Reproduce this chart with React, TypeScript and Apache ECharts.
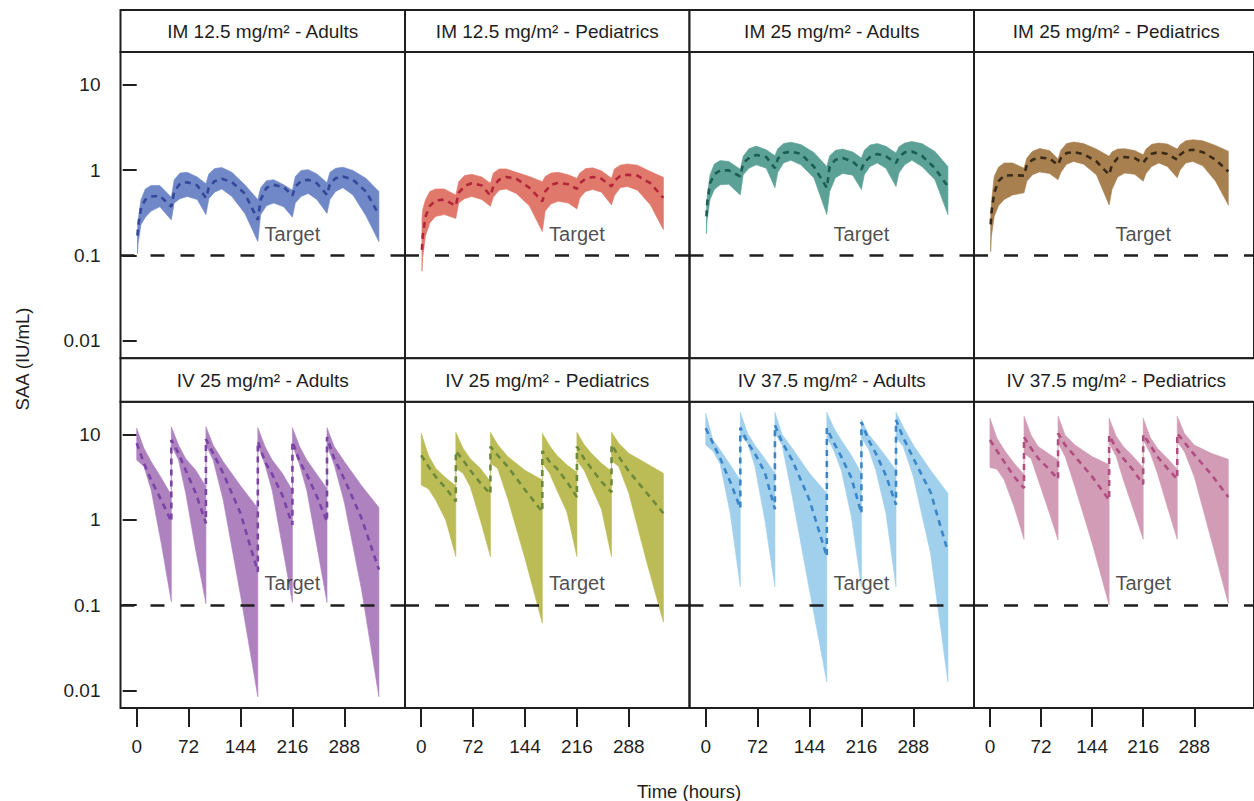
import React, { useEffect, useRef } from "react";
import * as echarts from "echarts";

// ---------- data ----------
const panelTitles = [
  "IM 12.5 mg/m² - Adults",
  "IM 12.5 mg/m² - Pediatrics",
  "IM 25 mg/m² - Adults",
  "IM 25 mg/m² - Pediatrics",
  "IV 25 mg/m² - Adults",
  "IV 25 mg/m² - Pediatrics",
  "IV 37.5 mg/m² - Adults",
  "IV 37.5 mg/m² - Pediatrics",
];

const xTicks = [0, 72, 144, 216, 288];
const yTicks = [0.01, 0.1, 1, 10];
const targetValue = 0.1;
const targetLabelTime = 216;
const targetLabelValue = 0.18;

// time grids (hours)
const T_IM = [1, 2, 6, 12, 20, 32, 48, 52, 60, 70, 84, 96, 100, 108, 118, 132, 150, 168, 172, 180, 190, 204, 216, 220, 228, 238, 250, 264, 268, 276, 286, 300, 318, 336];
const T_IV = [0, 10, 20, 34, 48, 48, 58, 68, 82, 96, 96, 106, 120, 144, 168, 168, 178, 188, 202, 216, 216, 226, 236, 250, 264, 264, 274, 288, 312, 336];

// IM 12.5 Adults
const im125AdLower = [0.105, 0.139, 0.23, 0.28, 0.33, 0.37, 0.26, 0.41, 0.46, 0.49, 0.45, 0.3, 0.46, 0.55, 0.6, 0.49, 0.31, 0.145, 0.3, 0.38, 0.41, 0.37, 0.28, 0.41, 0.49, 0.53, 0.45, 0.31, 0.45, 0.56, 0.62, 0.51, 0.29, 0.145];
const im125AdMedian = [0.17, 0.22, 0.36, 0.45, 0.49, 0.5, 0.37, 0.56, 0.69, 0.72, 0.66, 0.47, 0.62, 0.74, 0.79, 0.72, 0.53, 0.26, 0.45, 0.62, 0.67, 0.63, 0.5, 0.64, 0.74, 0.77, 0.7, 0.51, 0.69, 0.8, 0.84, 0.77, 0.56, 0.3];
const im125AdUpper = [0.2, 0.26, 0.45, 0.6, 0.66, 0.66, 0.48, 0.77, 0.92, 0.94, 0.83, 0.69, 0.9, 1.04, 1.07, 0.94, 0.67, 0.45, 0.62, 0.75, 0.77, 0.67, 0.58, 0.84, 0.99, 1.01, 0.9, 0.71, 0.94, 1.05, 1.08, 0.99, 0.8, 0.56];

// IM 12.5 Pediatrics
const im125PedLower = [0.065, 0.094, 0.17, 0.24, 0.286, 0.3, 0.27, 0.41, 0.46, 0.49, 0.45, 0.375, 0.48, 0.58, 0.6, 0.53, 0.38, 0.19, 0.33, 0.4, 0.43, 0.41, 0.35, 0.47, 0.56, 0.59, 0.55, 0.39, 0.5, 0.62, 0.64, 0.58, 0.39, 0.2];
const im125PedMedian = [0.116, 0.166, 0.286, 0.38, 0.44, 0.45, 0.38, 0.54, 0.65, 0.7, 0.66, 0.5, 0.64, 0.77, 0.83, 0.79, 0.62, 0.43, 0.56, 0.67, 0.71, 0.68, 0.6, 0.7, 0.79, 0.83, 0.79, 0.64, 0.75, 0.85, 0.88, 0.86, 0.7, 0.47];
const im125PedUpper = [0.27, 0.34, 0.45, 0.56, 0.6, 0.6, 0.51, 0.73, 0.86, 0.89, 0.83, 0.7, 0.92, 1.03, 1.03, 0.94, 0.84, 0.73, 0.84, 0.92, 0.94, 0.88, 0.8, 0.92, 1.04, 1.06, 0.98, 0.8, 1.03, 1.14, 1.18, 1.14, 0.96, 0.82];

// IM 25 Adults
const im25AdLower = [0.18, 0.26, 0.45, 0.59, 0.67, 0.68, 0.51, 0.88, 1.05, 1.15, 1.05, 0.62, 0.94, 1.21, 1.3, 1.15, 0.81, 0.3, 0.56, 0.81, 0.91, 0.87, 0.59, 0.88, 1.1, 1.21, 1.05, 0.64, 0.92, 1.15, 1.3, 1.1, 0.77, 0.3];
const im25AdMedian = [0.286, 0.41, 0.7, 0.89, 0.99, 0.99, 0.84, 1.21, 1.38, 1.5, 1.42, 1.05, 1.35, 1.58, 1.65, 1.55, 1.1, 0.62, 1.1, 1.32, 1.38, 1.26, 1.01, 1.23, 1.42, 1.54, 1.45, 1.21, 1.42, 1.61, 1.65, 1.47, 1.05, 0.64];
const im25AdUpper = [0.34, 0.49, 0.88, 1.18, 1.29, 1.26, 1.02, 1.45, 1.78, 1.91, 1.73, 1.47, 1.78, 2.04, 2.12, 1.99, 1.61, 1.1, 1.47, 1.7, 1.76, 1.63, 1.38, 1.7, 1.97, 2.04, 1.9, 1.58, 1.87, 2.07, 2.16, 2.04, 1.65, 1.1];

// IM 25 Pediatrics
const im25PedLower = [0.11, 0.166, 0.286, 0.38, 0.45, 0.51, 0.54, 0.74, 0.88, 0.95, 0.91, 0.77, 0.94, 1.17, 1.26, 1.17, 0.88, 0.39, 0.59, 0.83, 0.92, 0.89, 0.74, 0.91, 1.1, 1.21, 1.1, 0.81, 1.0, 1.21, 1.26, 1.12, 0.74, 0.39];
const im25PedMedian = [0.23, 0.31, 0.54, 0.74, 0.86, 0.87, 0.86, 1.15, 1.32, 1.4, 1.36, 1.15, 1.38, 1.58, 1.62, 1.54, 1.26, 0.88, 1.15, 1.38, 1.42, 1.38, 1.21, 1.35, 1.55, 1.62, 1.54, 1.32, 1.51, 1.69, 1.73, 1.62, 1.32, 0.96];
const im25PedUpper = [0.286, 0.41, 0.84, 1.08, 1.21, 1.21, 1.05, 1.38, 1.66, 1.79, 1.69, 1.35, 1.71, 2.04, 2.13, 2.04, 1.76, 1.45, 1.63, 1.76, 1.78, 1.69, 1.51, 1.76, 2.0, 2.07, 2.02, 1.76, 1.98, 2.2, 2.27, 2.2, 1.94, 1.66];

// IV 25 Adults
const iv25AdLower = [5.0, 4.2, 2.23, 0.53, 0.109, 7.5, 5.0, 2.04, 0.43, 0.104, 7.5, 5.0, 1.7, 0.13, 0.0084, 7.5, 4.4, 2.2, 0.49, 0.107, 7.5, 4.4, 2.2, 0.49, 0.107, 7.5, 4.4, 1.6, 0.15, 0.0084];
const iv25AdMedian = [7.9, 4.6, 2.92, 1.7, 0.95, 8.6, 6.0, 3.8, 2.04, 0.91, 8.8, 6.0, 3.5, 1.19, 0.245, 8.3, 4.8, 3.4, 1.94, 0.87, 8.3, 4.8, 3.4, 1.87, 0.95, 9.3, 5.2, 3.0, 1.04, 0.26];
const iv25AdUpper = [11.8, 6.9, 4.8, 3.1, 1.94, 12.3, 7.5, 5.2, 3.8, 2.44, 12.3, 7.5, 4.8, 2.5, 1.36, 12.0, 7.2, 5.0, 3.5, 2.2, 12.0, 7.2, 5.0, 3.4, 2.3, 12.0, 7.2, 4.8, 2.5, 1.39];

// IV 25 Pediatrics
const iv25PedLower = [2.55, 2.3, 1.7, 0.99, 0.37, 4.0, 3.5, 2.44, 0.99, 0.37, 4.6, 4.0, 1.77, 0.35, 0.061, 4.6, 3.5, 2.24, 1.24, 0.37, 4.9, 3.8, 2.44, 1.33, 0.37, 4.9, 4.2, 2.04, 0.34, 0.063];
const iv25PedMedian = [5.7, 4.2, 3.2, 2.35, 1.64, 6.4, 5.0, 3.8, 2.7, 2.0, 7.2, 5.7, 4.2, 2.24, 1.24, 6.4, 4.8, 4.0, 2.8, 1.84, 7.2, 5.2, 4.0, 2.8, 2.1, 7.6, 5.5, 3.7, 2.1, 1.19];
const iv25PedUpper = [10.3, 5.7, 4.0, 3.1, 2.5, 10.6, 6.9, 5.2, 4.0, 2.8, 10.6, 7.6, 5.5, 3.8, 2.92, 10.3, 7.4, 5.7, 4.4, 3.6, 10.6, 7.6, 6.0, 4.6, 3.7, 10.6, 7.9, 6.0, 4.6, 3.5];

// IV 37.5 Adults
const iv375AdLower = [7.5, 6.4, 4.5, 1.19, 0.163, 9.8, 7.9, 4.3, 1.0, 0.163, 10.3, 7.5, 1.87, 0.149, 0.0125, 9.2, 6.4, 3.8, 1.09, 0.163, 9.2, 6.7, 3.8, 1.19, 0.163, 9.2, 7.2, 3.2, 0.4, 0.0125];
const iv375AdMedian = [11.8, 7.9, 5.25, 2.79, 1.36, 12.0, 8.1, 6.0, 3.6, 1.33, 12.8, 8.1, 5.0, 1.7, 0.37, 11.8, 7.9, 5.5, 3.1, 1.19, 14.0, 8.6, 6.0, 3.3, 1.5, 14.8, 9.2, 5.25, 2.1, 0.42];
const iv375AdUpper = [17.7, 8.6, 6.6, 4.4, 2.9, 18.2, 10.3, 7.5, 5.2, 3.5, 18.2, 10.0, 6.9, 3.5, 2.04, 18.2, 11.8, 8.6, 5.7, 3.5, 15.0, 10.0, 7.9, 5.5, 3.8, 18.2, 12.3, 7.5, 3.8, 2.04];

// IV 37.5 Pediatrics
const iv375PedLower = [4.1, 3.9, 2.92, 1.42, 0.59, 6.0, 5.2, 2.92, 1.33, 0.58, 7.9, 5.5, 2.4, 0.53, 0.1, 7.9, 5.5, 2.92, 1.33, 0.59, 8.6, 6.0, 3.5, 1.42, 0.59, 8.2, 6.3, 3.2, 0.58, 0.104];
const iv375PedMedian = [8.6, 6.4, 4.8, 3.2, 2.35, 9.3, 6.9, 5.25, 4.0, 3.0, 10.3, 7.5, 5.5, 3.2, 1.7, 9.8, 6.9, 5.25, 3.8, 2.6, 10.0, 7.5, 5.5, 4.0, 3.0, 10.3, 8.1, 5.8, 3.4, 1.84];
const iv375PedUpper = [15.5, 9.0, 6.6, 4.6, 3.4, 16.4, 9.8, 7.2, 6.0, 5.0, 16.4, 9.8, 7.5, 5.5, 4.4, 15.5, 9.5, 7.2, 5.5, 4.1, 15.5, 9.2, 6.9, 5.25, 3.9, 16.4, 10.3, 7.5, 6.0, 5.1];

const panelTimes = [T_IM, T_IM, T_IM, T_IM, T_IV, T_IV, T_IV, T_IV];
const panelLower = [im125AdLower, im125PedLower, im25AdLower, im25PedLower, iv25AdLower, iv25PedLower, iv375AdLower, iv375PedLower];
const panelMedian = [im125AdMedian, im125PedMedian, im25AdMedian, im25PedMedian, iv25AdMedian, iv25PedMedian, iv375AdMedian, iv375PedMedian];
const panelUpper = [im125AdUpper, im125PedUpper, im25AdUpper, im25PedUpper, iv25AdUpper, iv25PedUpper, iv375AdUpper, iv375PedUpper];

// ---------- styles ----------
const bandColors = ["#7088C8", "#E0786B", "#5BA196", "#A88050", "#AE82BF", "#BCBC56", "#A0D0EC", "#D39CB6"];
const lineColors = ["#34489A", "#B3263A", "#1D5E54", "#3A2A18", "#7A43A6", "#6C8A3A", "#3A86C8", "#B04E80"];

const FONT = "'Liberation Sans', Arial, Helvetica, sans-serif";
const INK = "#1e1e1e";
const X_MIN = -22.5;
const X_MAX = 372.2;
const Y_MIN = 0.0062;
const Y_MAX = 24.2;
const COL_LEFT = 120.5;
const COL_W = 284.5;
const ROW_TOP = [52, 401.7];
const ROW_H = 306.3;
const STRIP_H = [42, 43.4];
const X_TICK_LEN = 19;
const Y_TICK_LEN = 14;

export default function App() {
  const ref = useRef<HTMLDivElement>(null);

  useEffect(() => {
    if (!ref.current) return;
    const chart = echarts.init(ref.current, null, { renderer: "svg" });

    const grids: any[] = [];
    const xAxes: any[] = [];
    const yAxes: any[] = [];
    const series: any[] = [];
    const graphics: any[] = [];

    for (let i = 0; i < 8; i++) {
      const row = Math.floor(i / 4);
      const col = i % 4;
      const left = COL_LEFT + col * COL_W;
      const top = ROW_TOP[row];
      grids.push({
        left,
        top,
        width: COL_W,
        height: ROW_H,
        show: true,
        borderColor: INK,
        borderWidth: 2,
        backgroundColor: "transparent",
        containLabel: false,
      });
      const bottomRow = row === 1;
      xAxes.push({
        type: "value",
        gridIndex: i,
        min: X_MIN,
        max: X_MAX,
        axisLine: { show: false },
        splitLine: { show: false },
        axisTick: {
          show: bottomRow,
          customValues: xTicks,
          length: X_TICK_LEN,
          lineStyle: { color: INK, width: 2 },
        },
        axisLabel: {
          show: bottomRow,
          customValues: xTicks,
          fontSize: 19,
          color: INK,
          fontFamily: FONT,
          margin: X_TICK_LEN + 10,
        },
      });
      const firstCol = col === 0;
      yAxes.push({
        type: "log",
        logBase: 10,
        gridIndex: i,
        min: Y_MIN,
        max: Y_MAX,
        axisLine: { show: false },
        splitLine: { show: false },
        axisTick: {
          show: firstCol,
          customValues: yTicks,
          length: Y_TICK_LEN,
          lineStyle: { color: INK, width: 2 },
        },
        axisLabel: {
          show: firstCol,
          customValues: yTicks,
          fontSize: 19,
          color: INK,
          fontFamily: FONT,
          margin: Y_TICK_LEN + 6,
          formatter: (v: number) => String(Number(v.toPrecision(3))),
        },
      });

      const t = panelTimes[i];
      const lo = panelLower[i];
      const md = panelMedian[i];
      const up = panelUpper[i];
      const bandColor = bandColors[i];

      series.push({
        type: "custom",
        xAxisIndex: i,
        yAxisIndex: i,
        silent: true,
        z: 1,
        data: t.map((x, k) => [x, lo[k], up[k]]),
        encode: { x: 0, y: [1, 2] },
        renderItem: (params: any, api: any) => {
          if (params.dataIndex !== 0) return null;
          const pts: number[][] = [];
          for (let k = 0; k < t.length; k++) pts.push(api.coord([t[k], up[k]]));
          for (let k = t.length - 1; k >= 0; k--) pts.push(api.coord([t[k], lo[k]]));
          return {
            type: "polygon",
            shape: { points: pts },
            style: { fill: bandColor, stroke: bandColor, lineWidth: 0.6 },
          };
        },
      });

      series.push({
        type: "line",
        xAxisIndex: i,
        yAxisIndex: i,
        silent: true,
        z: 3,
        symbol: "none",
        data: t.map((x, k) => [x, md[k]]),
        lineStyle: { color: lineColors[i], width: 2.6, type: [6, 5] },
        markLine: {
          silent: true,
          symbol: ["none", "none"],
          label: { show: false },
          lineStyle: { color: INK, width: 2.5, type: [14, 16] },
          data: [{ yAxis: targetValue }],
        },
      });

      series.push({
        type: "scatter",
        xAxisIndex: i,
        yAxisIndex: i,
        silent: true,
        z: 4,
        symbolSize: 0,
        data: [[targetLabelTime, targetLabelValue]],
        label: {
          show: true,
          position: "inside",
          formatter: "Target",
          fontSize: 20,
          color: INK,
          fontFamily: FONT,
        },
      });

      // strip header
      const sh = STRIP_H[row];
      graphics.push({
        type: "group",
        children: [
          {
            type: "rect",
            shape: { x: left, y: top - sh, width: COL_W, height: sh },
            style: { fill: "#fff", stroke: INK, lineWidth: 2 },
          },
          {
            type: "text",
            x: left + COL_W / 2,
            y: top - sh / 2,
            style: {
              text: panelTitles[i],
              fontSize: 19,
              fontFamily: FONT,
              fill: INK,
              textAlign: "center",
              textVerticalAlign: "middle",
            },
          },
        ],
      });
    }

    graphics.push({
      type: "text",
      x: 22,
      y: 359,
      rotation: Math.PI / 2,
      style: {
        text: "SAA (IU/mL)",
        fontSize: 18.5,
        fontFamily: FONT,
        fill: INK,
        textAlign: "center",
        textVerticalAlign: "middle",
      },
    });
    graphics.push({
      type: "text",
      x: 689,
      y: 791,
      style: {
        text: "Time (hours)",
        fontSize: 18.5,
        fontFamily: FONT,
        fill: INK,
        textAlign: "center",
        textVerticalAlign: "middle",
      },
    });

    chart.setOption({
      animation: false,
      backgroundColor: "#ffffff",
      textStyle: { fontFamily: FONT },
      grid: grids,
      xAxis: xAxes,
      yAxis: yAxes,
      series,
      graphic: graphics,
    });

    return () => chart.dispose();
  }, []);

  return (
    <div
      ref={ref}
      style={{ position: "absolute", left: 0, top: 0, width: 1254, height: 801 }}
    />
  );
}
